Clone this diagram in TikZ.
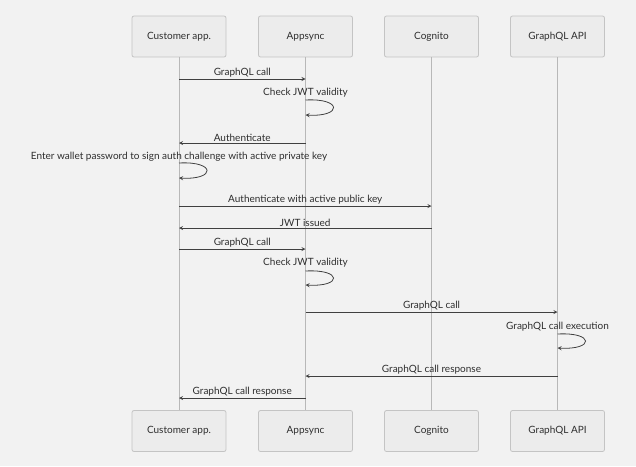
\documentclass[tikz,border=0pt]{standalone}
\usepackage{fontspec}
\setmainfont{Lato}
\usetikzlibrary{arrows}
\usepackage{xcolor}
\definecolor{bgcol}{HTML}{F2F2F2}
\definecolor{boxfill}{HTML}{ECECEC}
\definecolor{boxline}{HTML}{C4C4C4}
\definecolor{lifecol}{HTML}{B8B8B8}
\definecolor{msgcol}{HTML}{404040}
\definecolor{txtcol}{HTML}{2E2E2E}
\tikzstyle{actor} = [rectangle, rounded corners=2pt, 
minimum width=94pt, 
minimum height=41pt,
text centered, 
draw=boxline, 
line width=0.8pt,
fill=boxfill,
text=txtcol,
font=\fontsize{10}{12}\selectfont]
\tikzstyle{lifeline} = [draw=lifecol, line width=0.8pt]
\tikzstyle{arrow} = [line width=0.8pt, draw=msgcol, ->, >=stealth]
\tikzstyle{msg} = [anchor=south, inner sep=1.5pt, text=txtcol,
font=\fontsize{10}{12}\selectfont]
\tikzstyle{note} = [inner sep=0pt, text=txtcol,
font=\fontsize{10}{12}\selectfont]

\begin{document}
\begin{tikzpicture}[x=1pt, y=-1pt]
		\fill[bgcol] (0,0) rectangle (636,466);
		\useasboundingbox (0,0) rectangle (636,466);

		% participants
		\node (cust) [actor] at (179,36.5) {Customer app.};
		\node (apps) [actor] at (305.5,36.5) {Appsync};
		\node (cogn) [actor] at (431.5,36.5) {Cognito};
		\node (gql) [actor] at (557.5,36.5) {GraphQL API};

		\node (custb) [actor] at (179,431) {Customer app.};
		\node (appsb) [actor] at (305.5,431) {Appsync};
		\node (cognb) [actor] at (431.5,431) {Cognito};
		\node (gqlb) [actor] at (557.5,431) {GraphQL API};

		% lifelines
		\draw [lifeline] (cust) -- (custb);
		\draw [lifeline] (apps) -- (appsb);
		\draw [lifeline] (cogn) -- (cognb);
		\draw [lifeline] (gql) -- (gqlb);

		% messages
		\draw [arrow] (cust |- 0,79) -- node[msg] {GraphQL call} (apps |- 0,79);

		\node (chk1) [note] at (apps |- 0,93) {Check JWT validity};
		\draw [arrow] (apps |- 0,100) .. controls +(37,-2) and +(37,2) .. (apps |- 0,115);

		\draw [arrow] (apps |- 0,143) -- node[msg] {Authenticate} (cust |- 0,143);

		\node (sign) [note] at (cust |- 0,157) {Enter wallet password to sign auth challenge with active private key};
		\draw [arrow] (cust |- 0,163) .. controls +(37,-2) and +(37,2) .. (cust |- 0,178);

		\draw [arrow] (cust |- 0,206) -- node[msg] {Authenticate with active public key} (cogn |- 0,206);
		\draw [arrow] (cogn |- 0,228) -- node[msg] {JWT issued} (cust |- 0,228);
		\draw [arrow] (cust |- 0,249) -- node[msg] {GraphQL call} (apps |- 0,249);

		\node (chk2) [note] at (apps |- 0,263) {Check JWT validity};
		\draw [arrow] (apps |- 0,271) .. controls +(37,-2) and +(37,2) .. (apps |- 0,285);

		\draw [arrow] (apps |- 0,312) -- node[msg] {GraphQL call} (gql |- 0,312);

		\node (exec) [note] at (gql |- 0,327) {GraphQL call execution};
		\draw [arrow] (gql |- 0,334) .. controls +(37,-2) and +(37,2) .. (gql |- 0,348);

		\draw [arrow] (gql |- 0,376) -- node[msg] {GraphQL call response} (apps |- 0,376);
		\draw [arrow] (apps |- 0,398) -- node[msg] {GraphQL call response} (cust |- 0,398);

	\end{tikzpicture}
\end{document}
